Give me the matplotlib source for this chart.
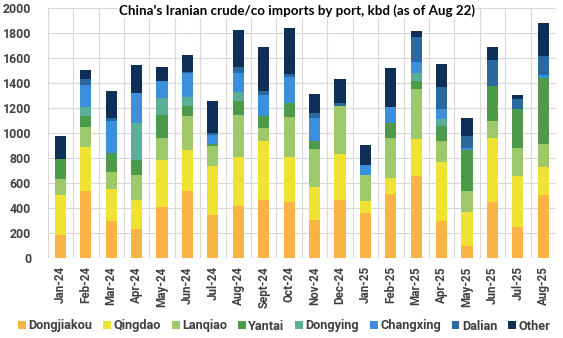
import matplotlib
matplotlib.use("Agg")
import matplotlib.pyplot as plt
import numpy as np
from matplotlib.patches import Patch

months = ["Jan-24", "Feb-24", "Mar-24", "Apr-24", "May-24", "Jun-24", "Jul-24",
          "Aug-24", "Sept-24", "Oct-24", "Nov-24", "Dec-24", "Jan-25", "Feb-25",
          "Mar-25", "Apr-25", "May-25", "Jun-25", "Jul-25", "Aug-25"]

dongjiakou = [187, 533, 293, 235, 408, 533, 347, 419, 461, 445, 301, 467, 363, 512, 659, 293, 99, 445, 248, 507]
qingdao    = [320, 352, 262, 232, 376, 331, 389, 392, 478, 360, 264, 365, 96, 131, 293, 472, 269, 518, 411, 224]
lanqiao    = [128, 160, 135, 194, 173, 272, 160, 333, 104, 326, 310, 384, 205, 320, 400, 174, 165, 136, 224, 181]
yantai     = [157, 88, 148, 123, 187, 80, 13, 112, 93, 106, 64, 0, 0, 120, 64, 117, 331, 277, 309, 525]
dongying   = [0, 72, 0, 299, 139, 75, 0, 75, 0, 0, 0, 0, 0, 0, 61, 56, 0, 0, 0, 0]
changxing  = [0, 182, 260, 240, 136, 186, 72, 152, 171, 214, 178, 0, 77, 128, 88, 80, 19, 0, 0, 27]
dalian     = [0, 48, 20, 0, 0, 15, 22, 48, 29, 21, 40, 27, 0, 0, 206, 179, 93, 208, 80, 155]
other      = [181, 66, 218, 221, 112, 132, 253, 293, 355, 371, 155, 189, 163, 312, 45, 181, 141, 101, 32, 264]

series_names = ["Dongjiakou", "Qingdao", "Lanqiao", "Yantai", "Dongying", "Changxing", "Dalian", "Other"]
series_vals = [dongjiakou, qingdao, lanqiao, yantai, dongying, changxing, dalian, other]
colors = ["#F9B445", "#F0E232", "#9DC96B", "#4C9A4A", "#5CAE96", "#3C8FDA", "#2B68A0", "#0E2F57"]

title = "China's Iranian crude/co imports by port, kbd (as of Aug 22)"

W, H, DPI = 563, 338, 100
fig = plt.figure(figsize=(W / DPI, H / DPI), dpi=DPI)
left, right = 47.7 / W, 556 / W
bottom, top = 1 - 258 / H, 1 - 8 / H
ax = fig.add_axes([left, bottom, right - left, top - bottom])

x = np.arange(len(months))
base = np.zeros(len(months))
for name, vals, c in zip(series_names, series_vals, colors):
    v = np.array(vals, dtype=float)
    ax.bar(x, v, bottom=base, width=0.44, color=c, label=name, zorder=3, linewidth=0)
    base += v

ax.set_xlim(-0.5, len(months) - 0.5)
ax.set_ylim(0, 2000)
ax.set_yticks(np.arange(0, 2001, 200))
ax.set_xticks(x)
ax.set_xticklabels(months, rotation=90, fontsize=8.4, fontweight="bold",
                   color="#404040", family="Roboto")
for lab in ax.get_yticklabels():
    lab.set_fontsize(8.8)
    lab.set_fontweight("bold")
    lab.set_color("#404040")
    lab.set_family("Roboto")

ax.set_xticks(np.arange(-0.5, len(months), 1), minor=True)
ax.grid(False)
ax.grid(axis="y", which="major", color="#D9D9D9", linewidth=0.8, zorder=0)
ax.grid(axis="x", which="minor", color="#D9D9D9", linewidth=0.8, zorder=0)
ax.tick_params(axis="both", which="both", length=0)
ax.tick_params(axis="y", pad=12)
ax.tick_params(axis="x", pad=6)
for s in ax.spines.values():
    s.set_visible(False)
ax.axhline(0, color="#D9D9D9", linewidth=0.8, zorder=2)

fig.text(0.527, 1 - 11 / H, title, ha="center", va="center", fontsize=9.6,
         fontweight="bold", family="Lato", color="#000000",
         bbox=dict(facecolor="white", edgecolor="none", pad=0.5), zorder=10)

handles = [Patch(facecolor=c, edgecolor="none", label=n) for n, c in zip(series_names, colors)]
leg = fig.legend(handles=handles, loc="center", bbox_to_anchor=(0.505, 1 - 326 / H), ncol=8,
                 frameon=False, handlelength=0.6, handleheight=0.6, handletextpad=0.2,
                 columnspacing=0.85, prop={"family": "Roboto", "weight": "bold", "size": 9.2})
for t in leg.get_texts():
    t.set_color("#404040")

fig.savefig("out.png", dpi=DPI)
